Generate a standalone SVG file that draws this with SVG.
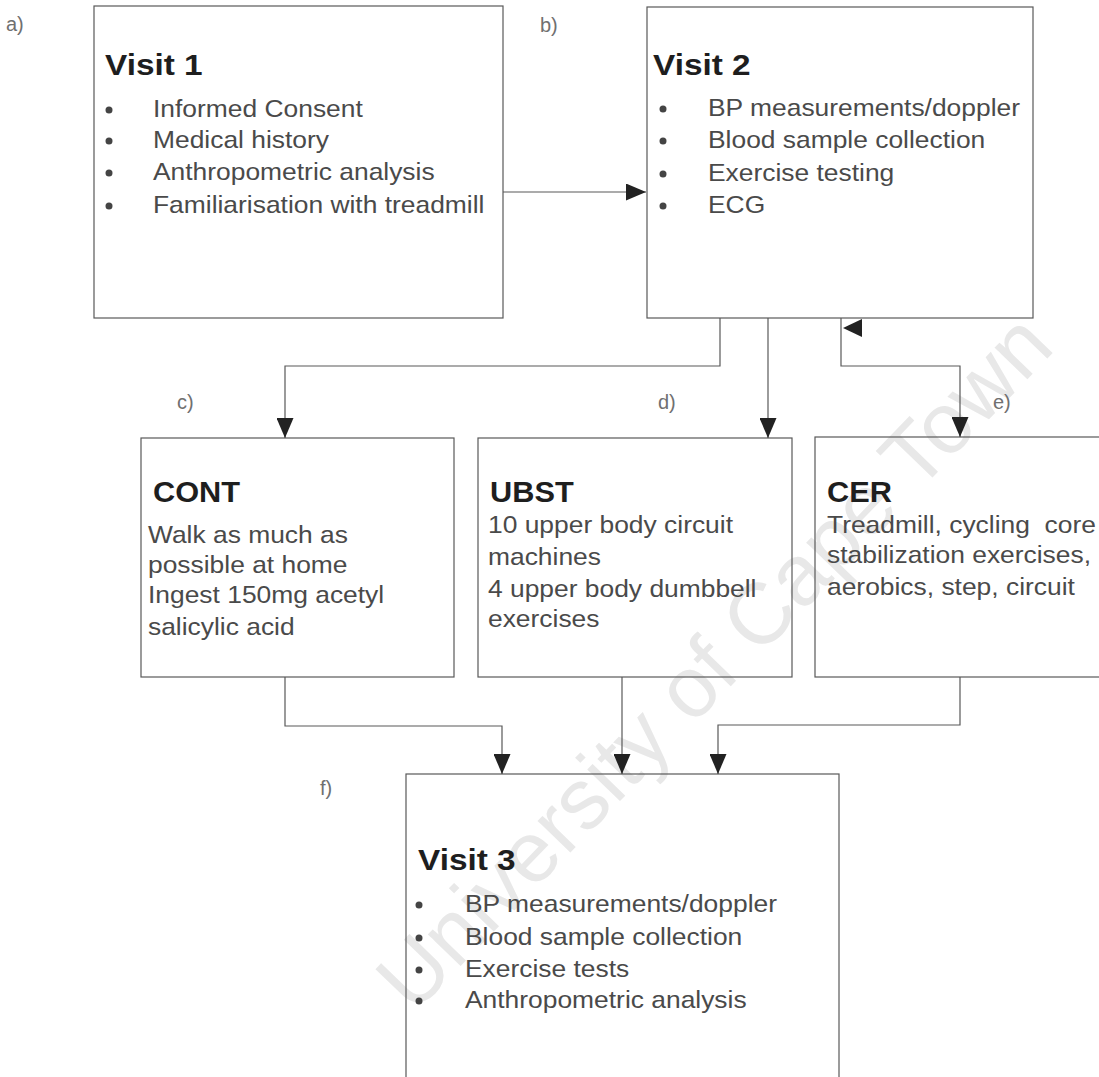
<svg xmlns="http://www.w3.org/2000/svg" width="1099" height="1077" viewBox="0 0 1099 1077">
<style>
text{font-family:"Liberation Sans",Arial,sans-serif}
.box{fill:none;stroke:#595959;stroke-width:1.2}
.ttl{font-size:29px;font-weight:bold;fill:#1e1e1e}
.bd{font-size:24px;fill:#4a4a4a}
.lbl{font-size:20px;fill:#707070}
.dot{fill:#444}
.con{fill:none;stroke:#595959;stroke-width:1.2}
.wm{font-size:86px;fill:#e8e8e8}
</style>
<defs>
<marker id="ah" markerUnits="userSpaceOnUse" markerWidth="20" markerHeight="17" refX="20" refY="8.5" orient="auto">
<path d="M0,0 L20,8.5 L0,17 z" fill="#222"/>
</marker>
</defs>
<rect width="1099" height="1077" fill="#fff"/>
<text class="wm" text-anchor="middle" transform="translate(735,682) rotate(-46)">University of Cape Town</text>

<g id="labels">
<text class="lbl" x="6" y="31">a)</text>
<text class="lbl" x="540" y="32">b)</text>
<text class="lbl" x="177" y="409">c)</text>
<text class="lbl" x="658" y="409">d)</text>
<text class="lbl" x="993" y="409">e)</text>
<text class="lbl" x="320" y="795">f)</text>
</g>

<g id="visit1">
<rect class="box" x="94" y="6" width="409" height="312"/>
<text class="ttl" transform="translate(105,75) scale(1.15,1)">Visit 1</text>
<circle class="dot" cx="109" cy="110" r="3.5"/>
<circle class="dot" cx="109" cy="141" r="3.5"/>
<circle class="dot" cx="109" cy="173" r="3.5"/>
<circle class="dot" cx="109" cy="206" r="3.5"/>
<g transform="translate(153,0) scale(1.1,1)">
<text class="bd" x="0" y="117">Informed Consent</text>
<text class="bd" x="0" y="148">Medical history</text>
<text class="bd" x="0" y="180">Anthropometric analysis</text>
<text class="bd" x="0" y="213">Familiarisation with treadmill</text>
</g>
</g>

<g id="visit2">
<rect class="box" x="647" y="7" width="386" height="311"/>
<text class="ttl" transform="translate(653,75) scale(1.15,1)">Visit 2</text>
<circle class="dot" cx="663" cy="109" r="3.5"/>
<circle class="dot" cx="663" cy="141" r="3.5"/>
<circle class="dot" cx="663" cy="174" r="3.5"/>
<circle class="dot" cx="663" cy="206" r="3.5"/>
<g transform="translate(708,0) scale(1.1,1)">
<text class="bd" x="0" y="116">BP measurements/doppler</text>
<text class="bd" x="0" y="148">Blood sample collection</text>
<text class="bd" x="0" y="181">Exercise testing</text>
<text class="bd" x="0" y="213">ECG</text>
</g>
</g>

<g id="cont">
<rect class="box" x="141" y="438" width="313" height="239"/>
<text class="ttl" transform="translate(153,502) scale(1.06,1)">CONT</text>
<g transform="translate(148,0) scale(1.1,1)">
<text class="bd" x="0" y="543">Walk as much as</text>
<text class="bd" x="0" y="573">possible at home</text>
<text class="bd" x="0" y="603">Ingest 150mg acetyl</text>
<text class="bd" x="0" y="635">salicylic acid</text>
</g>
</g>

<g id="ubst">
<rect class="box" x="478" y="438" width="314" height="239"/>
<text class="ttl" transform="translate(490,502) scale(1.06,1)">UBST</text>
<g transform="translate(488,0) scale(1.1,1)">
<text class="bd" x="0" y="533">10 upper body circuit</text>
<text class="bd" x="0" y="565">machines</text>
<text class="bd" x="0" y="597">4 upper body dumbbell</text>
<text class="bd" x="0" y="627">exercises</text>
</g>
</g>

<g id="cer">
<rect class="box" x="815" y="437" width="300" height="240"/>
<text class="ttl" transform="translate(827,502) scale(1.06,1)">CER</text>
<g transform="translate(827,0) scale(1.1,1)">
<text class="bd" x="0" y="533" xml:space="preserve">Treadmill, cycling  core</text>
<text class="bd" x="0" y="563">stabilization exercises,</text>
<text class="bd" x="0" y="595">aerobics, step, circuit</text>
</g>
</g>

<g id="visit3">
<rect class="box" x="406" y="774" width="433" height="320"/>
<text class="ttl" transform="translate(418,870) scale(1.15,1)">Visit 3</text>
<circle class="dot" cx="419" cy="905" r="3.5"/>
<circle class="dot" cx="419" cy="938" r="3.5"/>
<circle class="dot" cx="419" cy="970" r="3.5"/>
<circle class="dot" cx="419" cy="1001" r="3.5"/>
<g transform="translate(465,0) scale(1.1,1)">
<text class="bd" x="0" y="912">BP measurements/doppler</text>
<text class="bd" x="0" y="945">Blood sample collection</text>
<text class="bd" x="0" y="977">Exercise tests</text>
<text class="bd" x="0" y="1008">Anthropometric analysis</text>
</g>
</g>

<g id="connectors">
<path class="con" d="M503,192 H646" marker-end="url(#ah)"/>
<path class="con" d="M720,318 V366 H285 V438" marker-end="url(#ah)"/>
<path class="con" d="M768,318 V438" marker-end="url(#ah)"/>
<path class="con" d="M841,318 V366 H960 V437" marker-end="url(#ah)"/>
<polygon points="843,328 862,319 862,337" fill="#222"/>
<path class="con" d="M285,677 V726 H502 V774" marker-end="url(#ah)"/>
<path class="con" d="M622,677 V774" marker-end="url(#ah)"/>
<path class="con" d="M960,677 V725 H718 V774" marker-end="url(#ah)"/>
</g>
</svg>
